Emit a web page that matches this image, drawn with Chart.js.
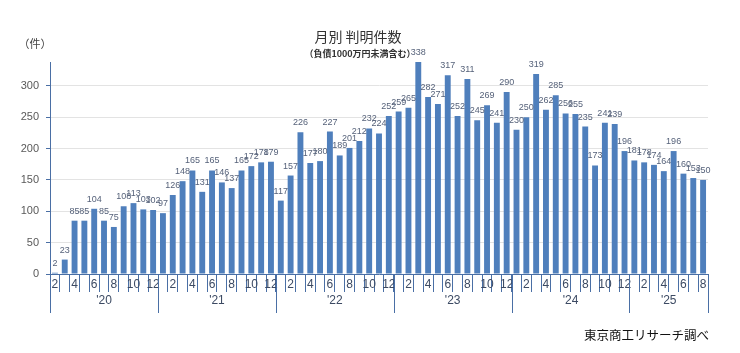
<!DOCTYPE html>
<html>
<head>
<meta charset="utf-8">
<script src="https://cdn.jsdelivr.net/npm/chart.js@4"></script>
<style>
  body { margin: 0; background: #fff; }
  #wrap { position: relative; width: 740px; height: 353px; }
</style>
</head>
<body>
<div id="wrap"><canvas id="chart" width="740" height="353"></canvas></div>
<script>
const chartEl = document.getElementById("chart");

// Feb 2020 - Aug 2025
const years = ["'20", "'21", "'22", "'23", "'24", "'25"];
const monthsPerYear = [11, 12, 12, 12, 12, 8];
const months = [
  2, 3, 4, 5, 6, 7, 8, 9, 10, 11, 12,
  1, 2, 3, 4, 5, 6, 7, 8, 9, 10, 11, 12,
  1, 2, 3, 4, 5, 6, 7, 8, 9, 10, 11, 12,
  1, 2, 3, 4, 5, 6, 7, 8, 9, 10, 11, 12,
  1, 2, 3, 4, 5, 6, 7, 8, 9, 10, 11, 12,
  1, 2, 3, 4, 5, 6, 7, 8
];
const counts = [
  2, 23, 85, 85, 104, 85, 75, 108, 113, 103, 102,
  97, 126, 148, 165, 131, 165, 146, 137, 165, 172, 178, 179,
  117, 157, 226, 177, 180, 227, 189, 201, 212, 232, 224, 252,
  259, 265, 338, 282, 271, 317, 252, 311, 245, 269, 241, 290,
  230, 250, 319, 262, 285, 256, 255, 235, 173, 241, 239, 196,
  181, 178, 174, 164, 196, 160, 153, 150
];
const yTicks = [0, 50, 100, 150, 200, 250, 300];

const axisColor = "#4a6fa5";
const jpFont = "'Noto Sans CJK JP', 'Liberation Sans', sans-serif";

// value labels above each bar
const valueLabels = {
  id: "valueLabels",
  afterDatasetsDraw(chart) {
    const ctx = chart.ctx;
    const meta = chart.getDatasetMeta(0);
    ctx.save();
    ctx.font = "9px 'Liberation Sans', Arial, sans-serif";
    ctx.fillStyle = "#56627a";
    ctx.textAlign = "center";
    ctx.textBaseline = "bottom";
    meta.data.forEach((bar, i) => {
      ctx.fillText(counts[i], bar.x, bar.y - 5);
    });
    ctx.restore();
  }
};

// year groups under the month axis + titles
const extraText = {
  id: "extraText",
  afterDraw(chart) {
    const ctx = chart.ctx;
    const x = chart.scales.x;
    const area = chart.chartArea;
    const step = (x.right - x.left) / counts.length;
    ctx.save();
    ctx.strokeStyle = axisColor;
    ctx.lineWidth = 1;
    ctx.fillStyle = "#3c4a63";
    ctx.font = "12px 'Liberation Sans', Arial, sans-serif";
    ctx.textAlign = "center";
    ctx.textBaseline = "middle";
    let start = 0;
    years.forEach((yr, i) => {
      const end = start + monthsPerYear[i];
      const left = x.getPixelForValue(start) - step / 2;
      const right = x.getPixelForValue(end - 1) + step / 2;
      [left, right].forEach(px => {
        ctx.beginPath();
        ctx.moveTo(Math.round(px) + 0.5, area.bottom);
        ctx.lineTo(Math.round(px) + 0.5, area.bottom + 39);
        ctx.stroke();
      });
      ctx.fillText(yr, (left + right) / 2, area.bottom + 27);
      start = end;
    });

    ctx.fillStyle = "#333";
    ctx.font = "14px " + jpFont;
    ctx.fillText("月別 判明件数", 358, 37);
    ctx.font = "bold 9px " + jpFont;
    ctx.fillText("（負債1000万円未満含む）", 360, 54);
    ctx.font = "11px " + jpFont;
    ctx.fillStyle = "#444";
    ctx.fillText("（件）", 35, 44);
    ctx.font = "12.5px " + jpFont;
    ctx.fillStyle = "#111";
    ctx.textAlign = "right";
    ctx.fillText("東京商工リサーチ調べ", 709, 335);
    ctx.restore();
  }
};

new Chart(chartEl, {
  type: "bar",
  data: {
    labels: months.map(String),
    datasets: [
      {
        label: "判明件数",
        data: counts,
        backgroundColor: "#4f7fbc",
        barPercentage: 0.6,
        categoryPercentage: 1,
      },
    ],
  },
  options: {
    responsive: false,
    animation: false,
    layout: { padding: { top: 62, right: 32, bottom: 0, left: 0 } },
    plugins: {
      legend: { display: false },
      tooltip: { enabled: false },
    },
    scales: {
      x: {
        offset: true,
        grid: {
          offset: true,
          drawOnChartArea: false,
          color: axisColor,
          tickLength: 18,
        },
        border: { color: axisColor },
        ticks: {
          autoSkip: false,
          maxRotation: 0,
          padding: -15,
          color: "#3c4a63",
          font: { family: "'Liberation Sans', Arial, sans-serif", size: 12 },
          callback: (v, i) => (months[i] % 2 === 0 ? String(months[i]) : ""),
        },
        afterFit: s => { s.height = 79; },
      },
      y: {
        min: 0,
        max: 338,
        afterBuildTicks: s => { s.ticks = yTicks.map(v => ({ value: v })); },
        grid: {
          color: "#e3e3e3",
          tickLength: 4,
          tickColor: axisColor,
        },
        border: { color: axisColor },
        ticks: {
          padding: 7,
          color: "#595959",
          font: { family: "'Liberation Sans', Arial, sans-serif", size: 11 },
        },
        afterFit: s => { s.width = 50; },
      },
    },
  },
  plugins: [valueLabels, extraText],
});
</script>
</body>
</html>
